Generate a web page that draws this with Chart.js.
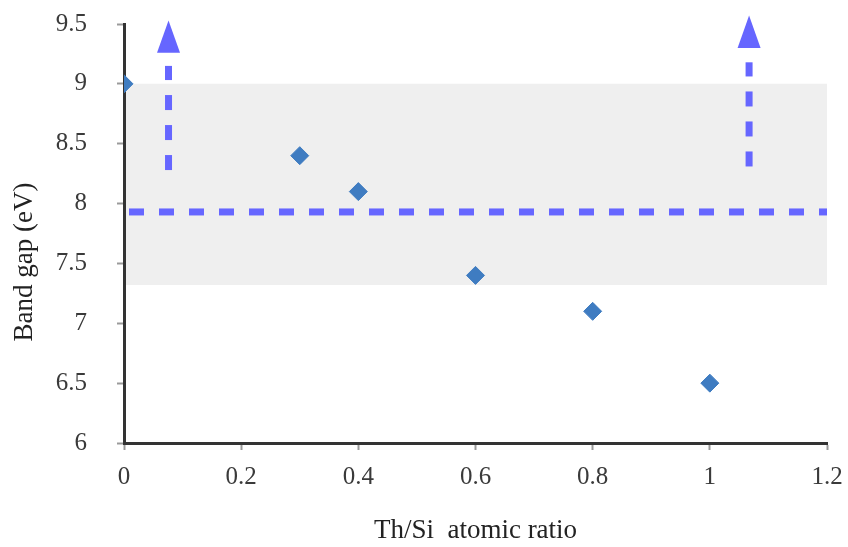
<!DOCTYPE html>
<html>
<head>
<meta charset="utf-8">
<script src="https://cdn.jsdelivr.net/npm/chart.js@4/dist/chart.umd.min.js"></script>
<style>
  html, body { margin: 0; padding: 0; background: #fff; }
  #myChart { display: block; }
</style>
</head>
<body>
<canvas id="myChart" width="848" height="547"></canvas>
<script>
const ctx = document.getElementById('myChart');

Chart.defaults.font.family = "'Liberation Serif', 'DejaVu Serif', serif";
Chart.defaults.color = '#404040';

// measured samples
var ratio = [0, 0.3, 0.4, 0.6, 0.8, 1];
var bandGap = [9, 8.4, 8.1, 7.4, 7.1, 6.5];

// axis ticks
var xTicks = [0, 0.2, 0.4, 0.6, 0.8, 1, 1.2];
var yTicks = [6, 6.5, 7, 7.5, 8, 8.5, 9, 9.5];

// shaded range and reference level
var rangeLow = [7.32, 7.32];
var rangeHigh = [9, 9];
var rangeX = [0, 1.2];
var refLevel = [7.93, 7.93];

// upward arrows: shaft start/end, head base/tip
var arrowX = [0.076, 1.067];
var shaftFrom = [8.28, 8.31];
var shaftTo = [9.15, 9.18];
var headBase = [9.26, 9.30];
var headTip = [9.53, 9.57];

var arrowColor = '#6666ff';

function pts(xs, ys) {
  return xs.map((x, i) => ({ x: x, y: ys[i] }));
}

// keep the plot box fixed, labels may overhang into the margins
function noEdgePadding(s) {
  s.paddingTop = 0;
  s.paddingBottom = 0;
  s.paddingLeft = 0;
  s.paddingRight = 0;
}

var shafts = arrowX.map((x, i) => ({
  data: pts([x, x], [shaftFrom[i], shaftTo[i]]),
  showLine: true,
  borderColor: arrowColor,
  borderWidth: 7,
  borderDash: [15, 15],
  pointRadius: 0,
  order: 1
}));

// arrow heads drawn on top of the datasets
const arrowHeads = {
  id: 'arrowHeads',
  afterDatasetsDraw(chart) {
    const c = chart.ctx;
    const xs = chart.scales.x, ys = chart.scales.y;
    c.save();
    c.fillStyle = arrowColor;
    arrowX.forEach((x, i) => {
      const px = xs.getPixelForValue(x);
      const yb = ys.getPixelForValue(headBase[i]);
      const yt = ys.getPixelForValue(headTip[i]);
      c.beginPath();
      c.moveTo(px, yt);
      c.lineTo(px + 11.5, yb);
      c.lineTo(px - 11.5, yb);
      c.closePath();
      c.fill();
    });
    c.restore();
  }
};

// y title sits a little below the axis middle
const yTitle = {
  id: 'yTitle',
  afterDraw(chart) {
    const c = chart.ctx;
    c.save();
    c.translate(25, 262);
    c.rotate(-Math.PI / 2);
    c.font = "27px 'Liberation Serif', serif";
    c.fillStyle = '#222';
    c.textAlign = 'center';
    c.textBaseline = 'middle';
    c.fillText('Band gap (eV)', 0, 0);
    c.restore();
  }
};

// shading stops just right of the axis line
var bandClip = { left: -2, top: 0, right: 0, bottom: 0 };

var chart = new Chart(ctx, {
  type: 'scatter',
  data: {
    datasets: [
      {
        data: pts(ratio, bandGap),
        pointStyle: 'rectRot',
        pointRadius: 9,
        pointHoverRadius: 9,
        backgroundColor: '#3f7cc1',
        borderColor: '#3f7cc1',
        borderWidth: 1,
        order: 0
      },
      {
        data: pts(rangeX, refLevel),
        showLine: true,
        borderColor: arrowColor,
        borderWidth: 7,
        borderDash: [15, 15],
        borderDashOffset: -5,
        pointRadius: 0,
        order: 1
      },
      ...shafts,
      {
        data: pts(rangeX, rangeHigh),
        showLine: true,
        borderColor: 'rgba(0,0,0,0)',
        pointRadius: 0,
        fill: '+1',
        backgroundColor: '#efefef',
        clip: bandClip,
        order: 2
      },
      {
        data: pts(rangeX, rangeLow),
        showLine: true,
        borderColor: 'rgba(0,0,0,0)',
        pointRadius: 0,
        fill: false,
        clip: bandClip,
        order: 2
      }
    ]
  },
  options: {
    responsive: false,
    animation: false,
    events: [],
    layout: { padding: { top: 24, right: 21, left: 0, bottom: 0 } },
    plugins: {
      legend: { display: false },
      tooltip: { enabled: false }
    },
    scales: {
      x: {
        type: 'linear',
        min: 0,
        max: 1.2,
        afterBuildTicks: s => { s.ticks = xTicks.map(v => ({ value: v })); },
        afterFit: s => { s.height = 104; noEdgePadding(s); },
        ticks: {
          padding: 12,
          font: { size: 25 },
          color: '#3a3a3a',
          maxRotation: 0,
          callback: v => String(v)
        },
        grid: {
          drawOnChartArea: false,
          tickLength: 7,
          tickColor: '#9a9a9a',
          tickWidth: 2
        },
        border: { color: '#333', width: 3 },
        title: {
          display: true,
          text: 'Th/Si  atomic ratio',
          color: '#222',
          font: { size: 27 },
          padding: { top: 0, bottom: 0 }
        }
      },
      y: {
        type: 'linear',
        min: 6,
        max: 9.5,
        afterBuildTicks: s => { s.ticks = yTicks.map(v => ({ value: v })); },
        afterFit: s => { s.width = 124; noEdgePadding(s); },
        ticks: {
          padding: 30,
          font: { size: 25 },
          color: '#3a3a3a',
          callback: v => String(v)
        },
        grid: {
          drawOnChartArea: false,
          tickLength: 7,
          tickColor: '#9a9a9a',
          tickWidth: 2
        },
        border: { color: '#333', width: 3 }
      }
    }
  },
  plugins: [arrowHeads, yTitle]
});
</script>
</body>
</html>
